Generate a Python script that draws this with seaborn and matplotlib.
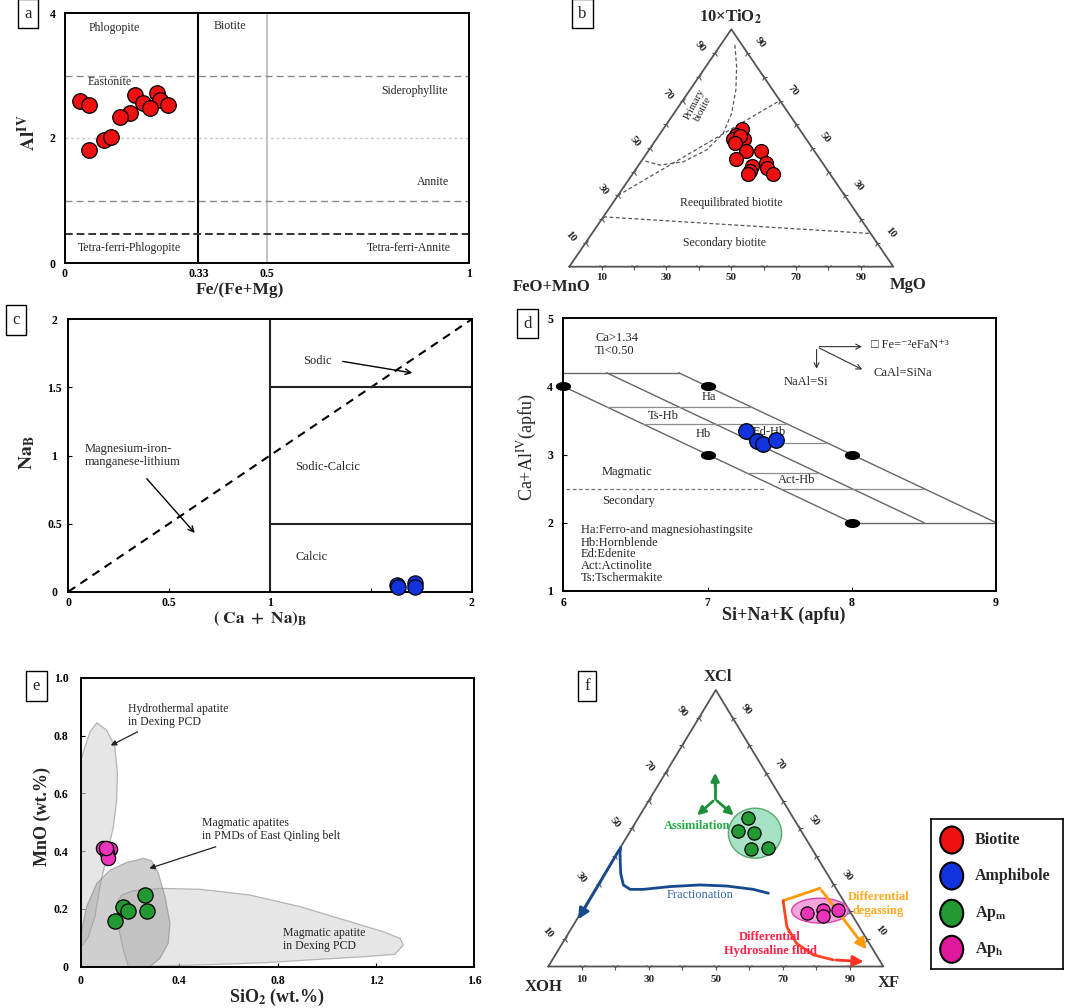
import numpy as np
import pandas as pd
import matplotlib
matplotlib.use('Agg')
import matplotlib.pyplot as plt
import seaborn as sns
from matplotlib.patches import Ellipse

W, H = 1065, 1008

# ---- values ----
# a: Al(IV) vs Fe/(Fe+Mg), biotite
bt_a_fe = [0.037, 0.060, 0.174, 0.227, 0.194, 0.236, 0.211, 0.256, 0.161, 0.136, 0.097, 0.114, 0.060]
bt_a_al = [2.60, 2.53, 2.69, 2.72, 2.56, 2.61, 2.48, 2.53, 2.40, 2.33, 1.97, 2.01, 1.81]

# b: ternary 10xTiO2 (top) - MgO (right) - FeO+MnO (left), in %
bt_b_ti = [57.9, 55.5, 53.7, 53.7, 55.1, 52.2, 48.7, 48.9, 45.2, 42.4, 43.8, 40.4, 39.0, 41.4, 39.0]
bt_b_mg = [24.3, 23.7, 23.8, 27.0, 25.1, 25.0, 30.2, 34.7, 29.0, 35.1, 38.8, 35.6, 35.8, 40.2, 43.5]
b_primary_ti = [93.4, 84.3, 74.4, 64.6, 56.2, 49.2, 44.2, 42.8, 44.7]
b_primary_mg = [4.4, 9.5, 14.2, 17.8, 19.4, 17.8, 13.1, 6.6, 0.5]
b_reeq_ti = [30, 70]
b_reeq_mg = [0, 30]
b_second_ti = [21, 14]
b_second_mg = [0, 86]

# c: NaB vs (Ca+Na)B, amphibole
am_c_x = [1.628, 1.636, 1.719, 1.719]
am_c_y = [0.049, 0.037, 0.066, 0.032]

# d: Ca+Al(IV) vs Si+Na+K, amphibole
am_d_x = [7.27, 7.345, 7.387, 7.474]
am_d_y = [3.35, 3.20, 3.15, 3.22]
d_dot_x = [6, 7, 7, 8, 8]
d_dot_y = [4, 4, 3, 3, 2]

# e: MnO vs SiO2, apatite
aph_e_si = [0.090, 0.118, 0.107, 0.111, 0.102]
aph_e_mn = [0.410, 0.406, 0.392, 0.375, 0.409]
apm_e_si = [0.260, 0.172, 0.193, 0.138, 0.267]
apm_e_mn = [0.248, 0.208, 0.194, 0.158, 0.194]
hydro_si = [0.064, 0.104, 0.138, 0.148, 0.145, 0.132, 0.104, 0.077, 0.057, 0.030, 0.007, 0.0, 0.0, 0.016, 0.037]
hydro_mn = [0.844, 0.819, 0.761, 0.669, 0.577, 0.484, 0.381, 0.277, 0.173, 0.104, 0.075, 0.075, 0.715, 0.761, 0.813]
pmd_si = [0.0, 0.0, 0.023, 0.064, 0.118, 0.186, 0.254, 0.287, 0.315, 0.342, 0.362, 0.355, 0.321, 0.281]
pmd_mn = [0.0, 0.115, 0.208, 0.288, 0.334, 0.361, 0.375, 0.367, 0.323, 0.242, 0.150, 0.081, 0.029, 0.0]
pcd_si = [0.145, 0.165, 0.213, 0.321, 0.484, 0.687, 0.891, 1.094, 1.230, 1.298, 1.311, 1.277,
          1.162, 0.959, 0.755, 0.484, 0.193, 0.172, 0.152]
pcd_mn = [0.219, 0.248, 0.263, 0.271, 0.268, 0.248, 0.208, 0.156, 0.121, 0.098, 0.075, 0.043,
          0.035, 0.025, 0.014, 0.006, 0.0, 0.058, 0.138]

# f: ternary XCl (top) - XF (right) - XOH (left), in %
apm_f_cl = [53.6, 49.1, 48.2, 42.4, 42.7]
apm_f_f = [32.9, 32.2, 37.3, 39.2, 44.3]
aph_f_cl = [19.5, 20.4, 18.3, 20.4]
aph_f_f = [67.4, 71.7, 72.9, 76.4]

tern_ticks = [10, 30, 50, 70, 90]

c_red = '#ee1111'
c_blue = '#1133dd'
c_green = '#229933'
c_pink = '#ee33bb'

sns.set_theme(style='white')
plt.rcParams['font.family'] = ['Liberation Serif', 'DejaVu Serif']
plt.rcParams['mathtext.fontset'] = 'stix'
plt.rcParams['axes.linewidth'] = 1.4

fig = plt.figure(figsize=(W / 100, H / 100), dpi=100)


def px_axes(x0, y0, x1, y1):
    return fig.add_axes([x0 / W, 1 - y1 / H, (x1 - x0) / W, (y1 - y0) / H])


def fig_text(px, py, s, **kw):
    fig.text(px / W, 1 - py / H, s, ha='center', va='center', **kw)


def panel_tag(px, py, s):
    fig_text(px, py, s, fontsize=12,
             bbox=dict(boxstyle='square,pad=0.4', fc='white', ec='black', lw=1))


def frame(ax, xlim, ylim, xticks, xlabels, yticks, ylabels, xpad, ypad):
    ax.set_xlim(*xlim)
    ax.set_ylim(*ylim)
    for sp in ax.spines.values():
        sp.set_visible(True)
        sp.set_color('black')
        sp.set_linewidth(1.4)
    ax.set_xticks(xticks, xlabels, fontweight='bold', fontsize=8.5)
    ax.set_yticks(yticks, ylabels, fontweight='bold', fontsize=8.5)
    ax.tick_params(axis='x', direction='in', length=3, width=0.8, bottom=True, pad=xpad, colors='black')
    ax.tick_params(axis='y', direction='in', length=3, width=0.8, left=True, pad=ypad, colors='black')
    ax.grid(False)


def dots(ax, x, y, color, s):
    sns.scatterplot(x=x, y=y, ax=ax, color=color, s=s, edgecolor='black',
                    linewidth=0.9, legend=False, zorder=5, clip_on=False)


def tern(top, right):
    top = np.asarray(top, float) / 100
    right = np.asarray(right, float) / 100
    return right + top / 2, top


def ternary_frame(ax, off_l, off_r, off_b):
    ax.set_xlim(0, 1)
    ax.set_ylim(0, 1)
    ax.axis('off')
    ax.plot([0, 1, 0.5, 0], [0, 0, 1, 0], color='#555555', lw=1.3, clip_on=False)
    t = np.arange(1, 10) / 10
    kw = dict(ls='none', ms=5, color='#555555', mew=0.8, clip_on=False)
    ax.plot(t, np.zeros_like(t), marker='1', **kw)
    ax.plot(t / 2, t, marker='3', **kw)
    ax.plot(1 - t / 2, t, marker='4', **kw)
    lab = dict(textcoords='offset pixels', ha='center', va='center', fontsize=8, fontweight='bold')
    for v in tern_ticks:
        ax.annotate(str(v), (v / 100, 0), xytext=(0, -off_b), **lab)
        ax.annotate(str(v), (v / 200, v / 100), xytext=off_l, rotation=-50, **lab)
        ax.annotate(str(v), (1 - v / 200, v / 100), xytext=off_r, rotation=-50, **lab)


txt = dict(fontsize=8.5, ha='center', va='center')

# ---------------- a ----------------
ax = px_axes(65, 13, 469, 263)
frame(ax, (0, 1), (0, 4), [0, 0.33, 0.5, 1], ['0', '0.33', '0.5', '1'],
      [0, 2, 4], ['0', '2', '4'], 3.5, 9)
ax.tick_params(length=0)
for lab in ax.get_yticklabels():
    lab.set_ha('center')
ax.axvline(0.33, color='black', lw=1.5)
ax.axvline(0.5, color='#c4c4c4', lw=1.5)
ax.axhline(3, color='#8a8a8a', lw=1, ls=(0, (5, 3)))
ax.axhline(2, color='#c8c8c8', lw=1, ls=(0, (2, 2)))
ax.axhline(1, color='#8a8a8a', lw=1, ls=(0, (5, 3)))
ax.axhline(0.47, color='#333333', lw=1.4, ls=(0, (4, 2)))
ax.text(0.122, 3.76, 'Phlogopite', **txt)
ax.text(0.408, 3.79, 'Biotite', **txt)
ax.text(0.111, 2.90, 'Eastonite', **txt)
ax.text(0.866, 2.75, 'Siderophyllite', **txt)
ax.text(0.912, 1.30, 'Annite', **txt)
ax.text(0.159, 0.235, 'Tetra-ferri-Phlogopite', **txt)
ax.text(0.850, 0.235, 'Tetra-ferri-Annite', **txt)
dots(ax, bt_a_fe, bt_a_al, c_red, 125)
panel_tag(28, 13.5, 'a')
fig_text(240, 290, 'Fe/(Fe+Mg)', fontsize=12.5, fontweight='bold')
fig_text(28, 133, r'$\mathbf{Al^{IV}}$', fontsize=14, rotation=90)

# ---------------- b ----------------
ax = px_axes(569.3, 29.3, 893.3, 266.7)
ternary_frame(ax, (-15, 6), (13, 10), 11)
dash = dict(color='#555555', lw=0.9, ls=(0, (3, 2)))
ax.plot(*tern(b_primary_ti, b_primary_mg), **dash)
ax.plot(*tern(b_reeq_ti, b_reeq_mg), **dash)
ax.plot(*tern(b_second_ti, b_second_mg), **dash)
ax.text(0.40, 0.674, 'Primary\nbiotite', fontsize=7.5, rotation=62, ha='center', va='center',
        linespacing=1.0)
ax.text(0.501, 0.267, 'Reequilibrated biotite', **txt)
ax.text(0.480, 0.100, 'Secondary biotite', **txt)
bx, by = tern(bt_b_ti, bt_b_mg)
dots(ax, bx, by, c_red, 100)
panel_tag(582.5, 13.5, 'b')
fig_text(730, 17, r'10×TiO$_\mathbf{2}$', fontsize=12, fontweight='bold')
fig_text(552, 287, 'FeO+MnO', fontsize=12, fontweight='bold')
fig_text(908, 285, 'MgO', fontsize=12, fontweight='bold')

# ---------------- c ----------------
ax = px_axes(68.3, 319.3, 471.7, 591.7)
frame(ax, (0, 2), (0, 2), [0, 0.5, 1, 1.5, 2], ['0', '0.5', '1', '', '2'],
      [0, 0.5, 1, 1.5, 2], ['0', '0.5', '1', '1.5', '2'], 3.5, 10)
for lab in ax.get_yticklabels():
    lab.set_ha('center')
ax.plot([0, 2], [0, 2], color='black', lw=1.5, ls=(0, (4, 3)))
ax.axvline(1, color='#222222', lw=1.5)
ax.plot([1, 2], [1.5, 1.5], color='#222222', lw=1.5)
ax.plot([1, 2], [0.5, 0.5], color='#222222', lw=1.5)
tc = dict(fontsize=9, ha='left', va='center')
ax.text(1.162, 1.694, 'Sodic', **tc)
ax.text(1.124, 0.918, 'Sodic-Calcic', **tc)
ax.text(1.124, 0.257, 'Calcic', **tc)
ax.text(0.083, 1.0, 'Magnesium-iron-\nmanganese-lithium', linespacing=1.05, **tc)
arr = dict(arrowstyle='->', color='black', lw=1, mutation_scale=10)
ax.annotate('', xy=(1.719, 1.603), xytext=(1.347, 1.694), arrowprops=arr)
ax.annotate('', xy=(0.636, 0.416), xytext=(0.38, 0.845), arrowprops=arr)
dots(ax, am_c_x, am_c_y, c_blue, 120)
panel_tag(16, 320, 'c')
fig_text(260, 619, r'$\mathbf{(\ Ca\ +\ Na)_B}$', fontsize=12.5)
fig_text(26.7, 453, r'$\mathbf{Na_B}$', fontsize=14, rotation=90)

# ---------------- d ----------------
ax = px_axes(563.3, 318.3, 996, 590.7)
frame(ax, (6, 9), (1, 5), [6, 7, 8, 9], ['6', '7', '8', '9'],
      [1, 2, 3, 4, 5], ['1', '2', '3', '4', '5'], 4.5, 9.5)
for lab in ax.get_yticklabels():
    lab.set_ha('center')
gl = dict(color='#666666', lw=1.0)
ax.plot([6, 8], [4, 2], **gl)
ax.plot([6.3, 8.5], [4.2, 2.0], **gl)
ax.plot([6.8, 9], [4.2, 2.0], **gl)
ax.plot([6, 6.8], [4.2, 4.2], **gl)
ax.plot([8, 9], [2, 2], **gl)
hl = dict(color='#8c8c8c', lw=0.9)
ax.plot([6.3, 7.3], [3.7, 3.7], **hl)
ax.plot([6.55, 7.55], [3.45, 3.45], **hl)
ax.plot([7.33, 7.83], [3.17, 3.17], **hl)
ax.plot([7.27, 7.77], [2.73, 2.73], **hl)
ax.plot([7.5, 8.5], [2.5, 2.5], **hl)
ax.plot([6.02, 7.39], [2.5, 2.5], color='#777777', lw=0.9, ls=(0, (3, 2)))
tt = np.linspace(0, 2 * np.pi, 30)
ell = np.column_stack([np.cos(tt), 0.55 * np.sin(tt)])
ax.plot(d_dot_x, d_dot_y, ls='none', marker=ell, ms=10, color='black', clip_on=False, zorder=4)
td = dict(fontsize=9, ha='center', va='center')
ax.text(6.22, 4.71, 'Ca>1.34', ha='left', va='center', fontsize=9)
ax.text(6.22, 4.52, 'Ti<0.50', ha='left', va='center', fontsize=9)
ax.text(7.01, 3.84, 'Ha', **td)
ax.text(6.69, 3.57, 'Ts-Hb', **td)
ax.text(6.97, 3.30, 'Hb', **td)
ax.text(7.43, 3.335, 'Ed-Hb', **td)
ax.text(6.44, 2.75, 'Magmatic', **td)
ax.text(7.62, 2.63, 'Act-Hb', **td)
ax.text(6.45, 2.32, 'Secondary', **td)
for yy, s in zip([1.891, 1.705, 1.534, 1.362, 1.191],
                 ['Ha:Ferro-and magnesiohastingsite', 'Hb:Hornblende', 'Ed:Edenite',
                  'Act:Actinolite', 'Ts:Tschermakite']):
    ax.text(6.12, yy, s, ha='left', va='center', fontsize=9)
ad = dict(arrowstyle='->', color='#333333', lw=0.8, mutation_scale=9)
ax.annotate('', xy=(7.756, 4.217), xytext=(7.756, 4.584), arrowprops=ad)
ax.annotate('', xy=(8.09, 4.584), xytext=(7.756, 4.584), arrowprops=ad)
ax.annotate('', xy=(8.09, 4.23), xytext=(7.756, 4.584), arrowprops=ad)
ax.text(7.68, 4.07, 'NaAl=Si', **td)
ax.text(8.13, 4.61, '□ Fe=⁻²eFaN⁺³', ha='left', va='center', fontsize=9)
ax.text(8.15, 4.20, 'CaAl=SiNa', ha='left', va='center', fontsize=9)
dots(ax, am_d_x, am_d_y, c_blue, 125)
panel_tag(527.5, 323.5, 'd')
fig_text(783.3, 615, 'Si+Na+K (apfu)', fontsize=13, fontweight='bold')
fig_text(527, 447, r'Ca+Al$^{\rm IV}$(apfu)', fontsize=13, rotation=90)

# ---------------- e ----------------
ax = px_axes(81, 677.7, 474.3, 966.7)
frame(ax, (0, 1.6), (0, 1.0), [0, 0.4, 0.8, 1.2, 1.6], ['0', '0.4', '0.8', '1.2', '1.6'],
      [0, 0.2, 0.4, 0.6, 0.8, 1.0], ['0', '0.2', '0.4', '0.6', '0.8', '1.0'], 6, 9)
ax.fill(hydro_si, hydro_mn, fc='#d6d6d6', ec='#8c8c8c', lw=0.9, alpha=0.6)
ax.fill(pcd_si, pcd_mn, fc='#d6d6d6', ec='#8c8c8c', lw=0.9, alpha=0.6)
ax.fill(pmd_si, pmd_mn, fc='#a0a0a0', ec='#7a7a7a', lw=0.9, alpha=0.5)
te = dict(fontsize=8.5, ha='left', va='center', linespacing=1.15)
ax.text(0.193, 0.870, 'Hydrothermal apatite\nin Dexing PCD', **te)
ax.text(0.491, 0.475, 'Magmatic apatites\nin PMDs of East Qinling belt', **te)
ax.text(0.823, 0.094, 'Magmatic apatite\nin Dexing PCD', **te)
ae = dict(arrowstyle='-|>', color='#222222', lw=0.9, mutation_scale=8)
ax.annotate('', xy=(0.111, 0.761), xytext=(0.240, 0.817), arrowprops=ae)
ax.annotate('', xy=(0.267, 0.337), xytext=(0.559, 0.418), arrowprops=ae)
dots(ax, aph_e_si, aph_e_mn, c_pink, 105)
dots(ax, apm_e_si, apm_e_mn, c_green, 120)
panel_tag(36.3, 686, 'e')
fig_text(276.7, 997.3, r'SiO$_\mathbf{2}$ (wt.%)', fontsize=13, fontweight='bold')
fig_text(42.7, 816.7, 'MnO (wt.%)', fontsize=13, fontweight='bold', rotation=90)

# ---------------- f ----------------
ax = px_axes(548.3, 690, 883.3, 966.5)
ternary_frame(ax, (-17, 6), (14, 8), 13)
ax.add_patch(Ellipse((0.617, 0.482), 0.159, 0.181, fc='#a6e3c4', ec='#5aaa6a', lw=1, zorder=3))
ax.add_patch(Ellipse((0.811, 0.202), 0.169, 0.090, fc='#f4a6dc', ec='#e040b0', lw=1, zorder=3))
ga = dict(arrowstyle='-|>', color='#1f8f3a', lw=2, mutation_scale=12)
ax.plot([0.498, 0.498], [0.605, 0.66], color='#1f8f3a', lw=2)
ax.annotate('', xy=(0.498, 0.711), xytext=(0.498, 0.64), arrowprops=ga)
ax.annotate('', xy=(0.438, 0.540), xytext=(0.498, 0.605), arrowprops=ga)
ax.annotate('', xy=(0.560, 0.540), xytext=(0.498, 0.605), arrowprops=ga)
ax.text(0.443, 0.508, 'Assimilation', color='#22aa44', fontsize=9, fontweight='bold',
        ha='center', va='center')
frac_x = [0.657, 0.612, 0.533, 0.453, 0.363, 0.284, 0.244, 0.224, 0.216, 0.214, 0.216]
frac_y = [0.265, 0.279, 0.291, 0.295, 0.289, 0.279, 0.279, 0.295, 0.337, 0.409, 0.431]
ax.plot(frac_x, frac_y, color='#174a8c', lw=2)
ax.annotate('', xy=(0.085, 0.162), xytext=(0.216, 0.431),
            arrowprops=dict(arrowstyle='-|>', color='#174a8c', lw=2, mutation_scale=16))
ax.text(0.453, 0.259, 'Fractionation', color='#3366aa', fontsize=9, ha='center', va='center')
ax.plot([0.701, 0.811], [0.238, 0.283], color='#ff9900', lw=2)
ax.annotate('', xy=(0.955, 0.054), xytext=(0.811, 0.283),
            arrowprops=dict(arrowstyle='-|>', color='#ff9900', lw=2, mutation_scale=16))
red_x = [0.701, 0.712, 0.741, 0.791, 0.851]
red_y = [0.238, 0.144, 0.084, 0.042, 0.024]
ax.plot(red_x, red_y, color='#ff4422', lw=2)
ax.annotate('', xy=(0.950, 0.017), xytext=(0.851, 0.024),
            arrowprops=dict(arrowstyle='-|>', color='#ff3322', lw=2, mutation_scale=16))
ax.text(0.985, 0.226, 'Differential\ndegassing', color='#ffaa22', fontsize=9,
        fontweight='bold', ha='center', va='center', linespacing=1.2)
ax.text(0.662, 0.081, 'Differential\nHydrosaline fluid', color='#ff2244', fontsize=9,
        fontweight='bold', ha='center', va='center', linespacing=1.2)
fx, fy = tern(apm_f_cl, apm_f_f)
dots(ax, fx, fy, c_green, 90)
fx, fy = tern(aph_f_cl, aph_f_f)
dots(ax, fx, fy, c_pink, 90)
panel_tag(587, 686, 'f')
fig_text(718.3, 677.3, 'XCl', fontsize=12, fontweight='bold')
fig_text(543.3, 987.3, 'XOH', fontsize=12, fontweight='bold')
fig_text(888.3, 983.3, 'XF', fontsize=12, fontweight='bold')

# ---------------- legend ----------------
lg = px_axes(930.7, 819.3, 1062.7, 969.3)
lg.set_xlim(0, 132)
lg.set_ylim(150, 0)
lg.set_xticks([])
lg.set_yticks([])
for sp in lg.spines.values():
    sp.set_visible(True)
    sp.set_color('black')
    sp.set_linewidth(1.2)
names = ['Biotite', 'Amphibole', r'Ap$_\mathbf{m}$', r'Ap$_\mathbf{h}$']
cols = [c_red, c_blue, c_green, '#e0189c']
for yy, nm, cc in zip([20.7, 56.7, 94, 130], names, cols):
    lg.add_patch(Ellipse((21, yy), 23, 27, fc=cc, ec='black', lw=1.5))
    lg.text(44.3, yy, nm, fontsize=11.5, fontweight='bold', ha='left', va='center')

fig.savefig('out.png', dpi=100)
